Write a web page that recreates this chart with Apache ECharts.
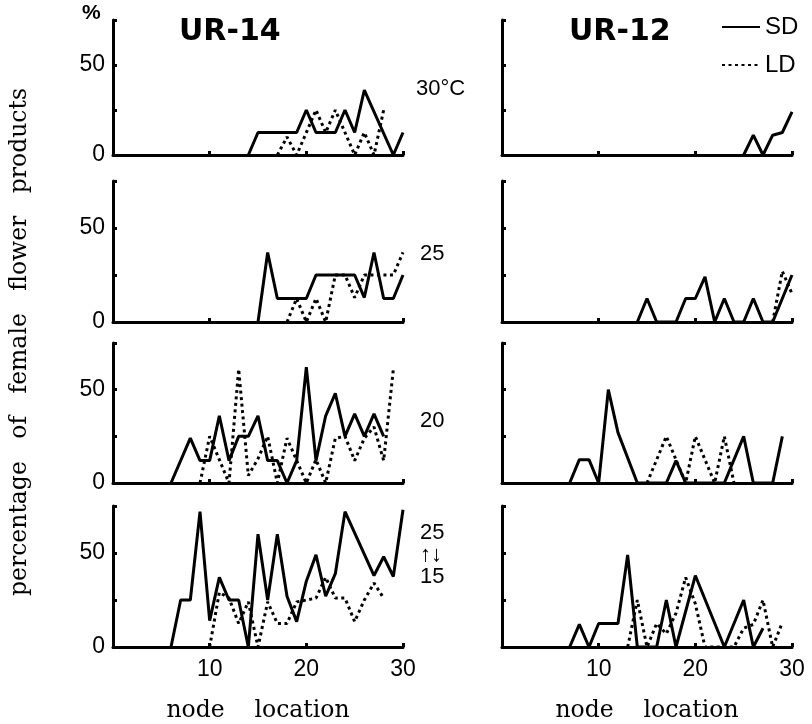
<!DOCTYPE html>
<html>
<head>
<meta charset="utf-8">
<script src="https://cdn.jsdelivr.net/npm/echarts@6/dist/echarts.min.js"></script>
<style>
html,body{margin:0;padding:0;background:#fff;}
#chart{width:812px;height:724px;}
</style>
</head>
<body>
<div id="chart"></div>
<script>
// ---- data: [node, percentage] ----
const xTicks = [0, 10, 20, 30];
const yTicks = [0, 25, 50, 75];
const yLabelsShown = [0, 50];
const cultivars = ['UR-14', 'UR-12'];
const tempLabels = ['30°C', '25', '20', '25\n↑↓\n15'];

const ur14_30_SD = [[14,0],[15,12.5],[16,12.5],[17,12.5],[18,12.5],[19,12.5],[20,25],[21,12.5],[22,12.5],[23,12.5],[24,25],[25,12.5],[26,36],[29,0],[30,12.5]];
const ur14_30_LD = [[17,0],[18,10],[19,0],[21,25],[22,12.5],[23,25],[25,0],[26,12.5],[27,0],[28,25]];

const ur14_25_SD = [[15,0],[16,37],[17,12.5],[18,12.5],[19,12.5],[20,12.5],[21,25],[22,25],[23,25],[24,25],[25,25],[26,13],[27,37],[28,12.5],[29,12.5],[30,25]];
const ur14_25_LD = [[18,0],[19,12.5],[20,0],[21,12.5],[22,0],[23,25],[24,25],[25,13],[26,25],[27,25],[28,25],[29,25],[30,37]];

const ur14_20_SD = [[6,0],[8,24],[9,12],[10,12],[11,36],[12,12],[13,25],[14,25],[15,36],[16,12],[17,12],[18,0],[19,12],[20,62],[21,12],[22,36],[23,48],[24,25],[25,37],[26,25],[27,37],[28,25]];
const ur14_20_LD = [[9,0],[10,25],[11,12.5],[12,0],[13,61],[14,4],[15,13],[16,25],[17,0],[18,24],[19,12],[20,0],[21,12.5],[22,0],[23,24],[24,25],[25,12],[26,24],[27,30],[28,12],[29,61]];

const ur14_15_SD = [[6,0],[7,25],[8,25],[9,72],[10,14],[11,37],[12,25],[13,25],[14,0],[15,60],[16,25],[17,60],[18,27],[19,13.5],[20,35],[21,49],[22,27],[23,39],[24,72],[27,38],[28,48],[29,37.5],[30,73]];
const ur14_15_LD = [[10,0],[11,29],[12,26],[13,12.5],[14,24],[15,0],[16,24],[17,12.5],[18,12.5],[19,24],[20,25],[21,26],[22,37],[23,26],[24,26],[25,13.5],[26,25],[27,34],[28,26]];

const ur12_30_SD = [[25,0],[26,11],[27,0],[28,11],[29,12.5],[30,24]];
const ur12_30_LD = [];

const ur12_25_SD = [[14,0],[15,12.5],[16,0],[17,0],[18,0],[19,12.5],[20,12.5],[21,24],[22,0],[23,12.5],[24,0],[25,0],[26,12.5],[27,0],[28,0],[29,12.5],[30,25]];
const ur12_25_LD = [[28,0],[29,27],[30,15]];

const ur12_20_SD = [[7,0],[8,12.5],[9,12.5],[10,0],[11,50],[12,27],[14,0],[15,0],[16,0],[17,0],[18,12],[19,0],[20,0],[21,0],[22,0],[23,0],[25,25],[26,0],[27,0],[28,0],[29,25]];
const ur12_20_LD = [[15,0],[16,12.5],[17,25],[18,12.5],[19,0],[20,25],[21,12.5],[22,0],[23,25],[24,0]];

const ur12_15_SD = [[7,0],[8,12],[9,0],[10,12.5],[11,12.5],[12,12.5],[13,49],[14,0],[15,0],[16,0],[17,25],[18,0],[20,38],[23,0],[25,25],[26,0],[27,10]];
const ur12_15_LD = [[13,0],[14,25],[15,0],[16,12.5],[17,7],[18,18],[19,37],[20,23],[21,0],[22,0],[23,0],[24,0],[25,10],[26,12],[27,25],[28,0],[29,13]];

// ---- layout ----
const colLeft = [113, 502];
const colWidth = 290;
const rowTop = [20, 181, 343, 506];
const rowHeight = [135, 141, 140, 141];

const panels = [
  {r:0,c:0,sd:ur14_30_SD,ld:ur14_30_LD},
  {r:1,c:0,sd:ur14_25_SD,ld:ur14_25_LD},
  {r:2,c:0,sd:ur14_20_SD,ld:ur14_20_LD},
  {r:3,c:0,sd:ur14_15_SD,ld:ur14_15_LD},
  {r:0,c:1,sd:ur12_30_SD,ld:ur12_30_LD},
  {r:1,c:1,sd:ur12_25_SD,ld:ur12_25_LD},
  {r:2,c:1,sd:ur12_20_SD,ld:ur12_20_LD},
  {r:3,c:1,sd:ur12_15_SD,ld:ur12_15_LD}
];

const FONT_SANS = 'Liberation Sans, Arial, sans-serif';
const FONT_SERIF = 'DejaVu Serif, serif';
const LW = 3;

const grids = [], xAxes = [], yAxes = [], series = [];
panels.forEach((p, i) => {
  grids.push({left: colLeft[p.c], top: rowTop[p.r], width: colWidth, height: rowHeight[p.r], containLabel: false});
  const bottom = p.r === 3;
  xAxes.push({
    type: 'value', gridIndex: i, min: xTicks[0], max: xTicks[xTicks.length-1], interval: 10,
    axisLine: {show: true, onZero: false, lineStyle: {color: '#000', width: LW}},
    axisTick: {show: true, inside: true, length: 4, lineStyle: {color: '#000', width: LW}},
    splitLine: {show: false},
    axisLabel: {show: bottom, margin: 11, fontSize: 23, color: '#000', fontFamily: FONT_SANS,
      formatter: v => (v === 0 ? '' : String(v))},
    name: bottom ? 'node    location' : '', nameLocation: 'middle', nameGap: 52,
    nameTextStyle: {fontFamily: FONT_SERIF, fontSize: 23.5, color: '#000'}
  });
  yAxes.push({
    type: 'value', gridIndex: i, min: yTicks[0], max: yTicks[yTicks.length-1], interval: 25,
    axisLine: {show: true, lineStyle: {color: '#000', width: LW}},
    axisTick: {show: true, inside: true, length: 4, lineStyle: {color: '#000', width: LW}},
    splitLine: {show: false},
    axisLabel: {show: p.c === 0, margin: 8, fontSize: 23, color: '#000', fontFamily: FONT_SANS,
      formatter: v => (yLabelsShown.indexOf(v) >= 0 ? String(v) : '')}
  });
  series.push({name: 'SD', type: 'line', xAxisIndex: i, yAxisIndex: i, data: p.sd, symbol: 'none',
    lineStyle: {color: '#000', width: LW, type: 'solid'}, itemStyle: {color: '#000'}});
  series.push({name: 'LD', type: 'line', xAxisIndex: i, yAxisIndex: i, data: p.ld, symbol: 'none',
    lineStyle: {color: '#000', width: LW, type: [3, 3.5]}, itemStyle: {color: '#000'}});
});

const graphics = [
  {type: 'text', left: 82, top: 3, style: {text: '%', font: 'bold 21px ' + FONT_SANS, fill: '#000'}},
  {type: 'text', left: 179, top: 17, style: {text: cultivars[0], font: 'bold 30px DejaVu Sans, sans-serif', fill: '#000'}},
  {type: 'text', left: 569, top: 17, style: {text: cultivars[1], font: 'bold 30px DejaVu Sans, sans-serif', fill: '#000'}},
  {type: 'text', left: 416, top: 78, style: {text: tempLabels[0], font: '22px ' + FONT_SANS, fill: '#000'}},
  {type: 'text', left: 420, top: 243, style: {text: tempLabels[1], font: '22px ' + FONT_SANS, fill: '#000'}},
  {type: 'text', left: 420, top: 410, style: {text: tempLabels[2], font: '22px ' + FONT_SANS, fill: '#000'}},
  {type: 'text', left: 420, top: 522, style: {text: tempLabels[3], font: '22px ' + FONT_SANS, fill: '#000', align: 'center', lineHeight: 22}},
  {type: 'text', x: 20, y: 342, rotation: Math.PI / 2,
    style: {text: 'percentage   of   female   flower   products', font: '23.5px ' + FONT_SERIF, fill: '#000', align: 'center', verticalAlign: 'middle'}}
];

const chart = echarts.init(document.getElementById('chart'), null, {renderer: 'canvas'});
chart.setOption({
  animation: false,
  backgroundColor: '#fff',
  grid: grids, xAxis: xAxes, yAxis: yAxes, series: series,
  legend: {
    data: ['SD', 'LD'], orient: 'vertical', left: 716, top: 10, itemWidth: 38, itemHeight: 14, itemGap: 14,
    itemStyle: {opacity: 0},
    textStyle: {fontSize: 24, color: '#000', fontFamily: FONT_SANS}, selectedMode: false
  },
  graphic: graphics
});
</script>
</body>
</html>
